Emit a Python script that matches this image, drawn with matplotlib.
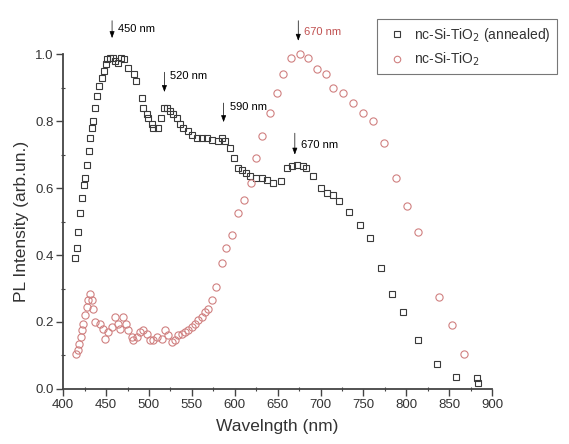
import matplotlib
matplotlib.use('Agg')
import matplotlib.pyplot as plt
from matplotlib.ticker import MultipleLocator

plt.rcParams['font.family'] = ['Liberation Sans', 'DejaVu Sans']

# 退火样品 (黑色方块)
wl_annealed = [414, 416, 417.5, 420, 422, 424, 426, 428, 430, 431.5, 434, 435, 437, 440,
               442, 445, 448, 450, 451, 455, 458, 460, 464, 467, 471, 476, 482, 485, 492,
               493, 498, 499, 504, 505, 510, 514, 517, 521, 525, 528, 533, 536, 540, 545,
               550, 556, 562, 568, 574, 580, 585, 589, 594, 599, 604, 609, 613, 618, 625,
               632, 638, 645, 654, 661, 667, 673, 679, 683, 691, 700, 707, 714, 722, 733,
               746, 758, 770, 783, 796, 814, 836, 858, 882, 883]
pl_annealed = [0.39, 0.42, 0.47, 0.525, 0.57, 0.61, 0.63, 0.67, 0.71, 0.75, 0.78, 0.80, 0.84, 0.875,
               0.905, 0.93, 0.95, 0.97, 0.985, 0.99, 0.99, 0.98, 0.975, 0.99, 0.985, 0.96, 0.94, 0.92, 0.87,
               0.84, 0.82, 0.81, 0.79, 0.78, 0.78, 0.81, 0.84, 0.84, 0.83, 0.82, 0.81, 0.79, 0.78, 0.77,
               0.76, 0.75, 0.75, 0.75, 0.745, 0.74, 0.75, 0.74, 0.72, 0.69, 0.66, 0.655, 0.645, 0.635, 0.63,
               0.63, 0.625, 0.615, 0.62, 0.66, 0.665, 0.67, 0.665, 0.66, 0.635, 0.60, 0.585, 0.58, 0.56, 0.53,
               0.49, 0.45, 0.36, 0.285, 0.23, 0.145, 0.075, 0.035, 0.033, 0.018]

# 未退火样品 (红色圆圈)
wl_asdep = [415, 417.5, 418.5, 421, 422, 423.5, 425.5, 428, 429, 431.5, 434, 435, 437, 443,
            446.5, 449, 452.5, 457, 460.5, 464, 466.5, 470, 473.5, 476, 480.5, 481.5, 486, 490,
            493, 498, 501.5, 505, 509.5, 515.5, 519, 522.5, 527, 530.5, 534, 538.5, 542, 545.5,
            550, 554, 557, 562, 565.5, 569, 573.5, 578, 585, 590, 597, 604, 611, 619, 625, 632,
            641, 649, 656, 666, 676, 685.5, 696, 706.5, 715, 726, 738, 750, 761, 774, 788, 801,
            814, 838, 853, 867]
pl_asdep = [0.105, 0.115, 0.135, 0.155, 0.175, 0.195, 0.22, 0.245, 0.265, 0.285, 0.265, 0.24, 0.20, 0.195,
            0.18, 0.15, 0.17, 0.185, 0.215, 0.195, 0.18, 0.215, 0.195, 0.175, 0.155, 0.145, 0.155, 0.17,
            0.175, 0.165, 0.145, 0.145, 0.155, 0.15, 0.175, 0.16, 0.14, 0.145, 0.16, 0.165, 0.17, 0.175,
            0.185, 0.195, 0.205, 0.215, 0.23, 0.24, 0.265, 0.305, 0.375, 0.42, 0.46, 0.525, 0.565, 0.615, 0.69, 0.755,
            0.825, 0.885, 0.94, 0.99, 1.0, 0.99, 0.955, 0.94, 0.90, 0.885, 0.855, 0.825, 0.80, 0.735, 0.63, 0.545,
            0.47, 0.275, 0.19, 0.105]

# 峰位标注
peak_labels = ['450 nm', '520 nm', '590 nm', '670 nm', '670 nm']
peak_x = [457, 518, 587, 670, 674]
peak_top = [1.10, 0.946, 0.854, 0.764, 1.10]
peak_tip = [1.048, 0.887, 0.797, 0.700, 1.040]
text_y = [1.075, 0.934, 0.842, 0.728, 1.066]
peak_colors = ['black', 'black', 'black', 'black', '#c05050']

fig = plt.figure(figsize=(5.69, 4.44), dpi=100)
ax = fig.add_axes([0.111, 0.124, 0.754, 0.754])

ax.plot(wl_annealed, pl_annealed, linestyle='none', marker='s', markersize=4.8,
        markerfacecolor='none', markeredgecolor='#3a3a3a', markeredgewidth=0.8,
        label='nc-Si-TiO$_2$ (annealed)', clip_on=False)
ax.plot(wl_asdep, pl_asdep, linestyle='none', marker='o', markersize=5.2,
        markerfacecolor='none', markeredgecolor='#d08080', markeredgewidth=0.8,
        label='nc-Si-TiO$_2$', clip_on=False)

for txt, x, y0, y1, ty, c in zip(peak_labels, peak_x, peak_top, peak_tip, text_y, peak_colors):
    ax.annotate('', xy=(x, y1), xytext=(x, y0), annotation_clip=False,
                arrowprops=dict(arrowstyle='-|>,head_length=0.4,head_width=0.15',
                                color='black', lw=0.5, shrinkA=0, shrinkB=0))
    ax.text(x + 7, ty, txt, fontsize=8, color=c, ha='left', va='center')

ax.set_xlim(400, 900)
ax.set_ylim(0, 1.0)
ax.xaxis.set_major_locator(MultipleLocator(50))
ax.xaxis.set_minor_locator(MultipleLocator(25))
ax.yaxis.set_major_locator(MultipleLocator(0.2))
ax.yaxis.set_minor_locator(MultipleLocator(0.1))
ax.yaxis.set_major_formatter(plt.FuncFormatter(lambda v, p: f'{v:.1f}'))

for s in ['top', 'right']:
    ax.spines[s].set_visible(False)
for s in ['left', 'bottom']:
    ax.spines[s].set_linewidth(1.3)
    ax.spines[s].set_color('#444444')

ax.tick_params(which='major', direction='out', length=5, width=1, colors='#444444',
               labelsize=9.5, labelcolor='#333333', pad=2)
ax.tick_params(which='minor', direction='inout', length=3.5, width=0.8, colors='#444444')

ax.set_xlabel('Wavelngth (nm)', fontsize=12.5, color='#333333', labelpad=6)
ax.set_ylabel('PL Intensity (arb.un.)', fontsize=12.5, color='#333333', labelpad=4)

leg = ax.legend(loc='upper left', bbox_to_anchor=(0.732, 1.104), fontsize=10,
                frameon=True, fancybox=False, edgecolor='#555555', handletextpad=0.2,
                borderpad=0.45, labelspacing=0.5, handlelength=2.0, markerscale=0.9,
                borderaxespad=0)
leg.get_frame().set_linewidth(0.8)
for t in leg.get_texts():
    t.set_color('#333333')

plt.savefig('out.png', dpi=100)
